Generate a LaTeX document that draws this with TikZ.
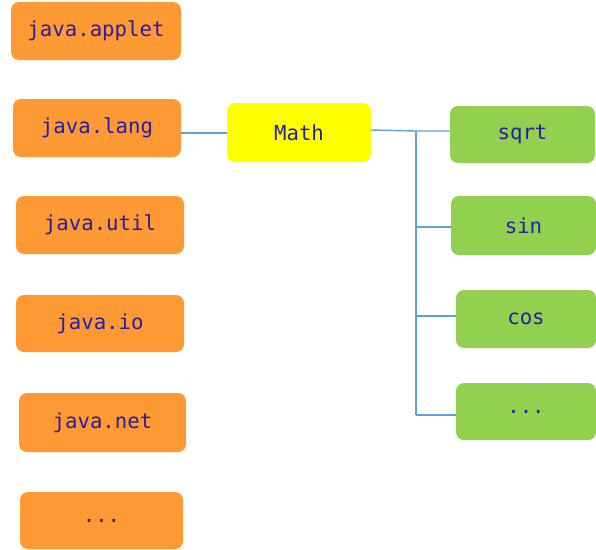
\documentclass[tikz,border=0pt]{standalone}
\usepackage{fontspec}
\setmonofont{DejaVu Sans Mono}
\definecolor{pkgorange}{RGB}{255,153,51}
\definecolor{clsyellow}{RGB}{255,255,0}
\definecolor{fngreen}{RGB}{146,208,80}
\definecolor{labelblue}{RGB}{40,30,160}
\definecolor{linkblue}{RGB}{100,160,215}
\tikzset{
  card/.style={rounded corners=8pt, inner sep=0pt, text=labelblue,
    font=\ttfamily\fontsize{20.7}{24}\selectfont},
  pkg/.style={card, fill=pkgorange},
  cls/.style={card, fill=clsyellow},
  fn/.style={card, fill=fngreen},
  link/.style={draw=linkblue, line width=1.4pt}
}
\begin{document}
\begin{tikzpicture}[x=1pt, y=-1pt]
\useasboundingbox (0,0) rectangle (596,549);
% package column
\node[pkg, minimum width=170pt, minimum height=58pt] (applet) at (96,31) {java.applet};
\node[pkg, minimum width=168pt, minimum height=58pt] (lang) at (97,128) {java.lang};
\node[pkg, minimum width=168pt, minimum height=58pt] (util) at (100,225) {java.util};
\node[pkg, minimum width=168pt, minimum height=57pt] (io) at (100,323.5) {java.io};
\node[pkg, minimum width=167pt, minimum height=59pt] (net) at (102.5,422.5) {java.net};
\node[pkg, minimum width=163pt, minimum height=57pt] (pmore) at (101.5,520.5) {...};
% class
\node[cls, minimum width=144pt, minimum height=59pt] (math) at (299,132.5) {Math};
% methods column
\node[fn, minimum width=145pt, minimum height=57pt] (sqrt) at (522.5,134.5) {sqrt};
\node[fn, minimum width=145pt, minimum height=59pt] (sin) at (523.5,225.5) {sin};
\node[fn, minimum width=140pt, minimum height=58pt] (cos) at (526,319) {cos};
\node[fn, minimum width=140pt, minimum height=57pt] (fmore) at (526,411.5) {...};
% connectors
\coordinate (trunktop) at (416,131);
\coordinate (trunkbot) at (416,415);
\draw[link] (lang.east |- 0,133) -- (math.west |- 0,133);
\draw[link] (math.east |- 0,130) -- (trunktop) -- (sqrt.west |- trunktop);
\draw[link] (trunktop) -- (trunkbot);
\draw[link] (416,227) -- (sin.west |- 0,227);
\draw[link] (416,316) -- (cos.west |- 0,316);
\draw[link] (trunkbot) -- (fmore.west |- trunkbot);
\end{tikzpicture}
\end{document}
